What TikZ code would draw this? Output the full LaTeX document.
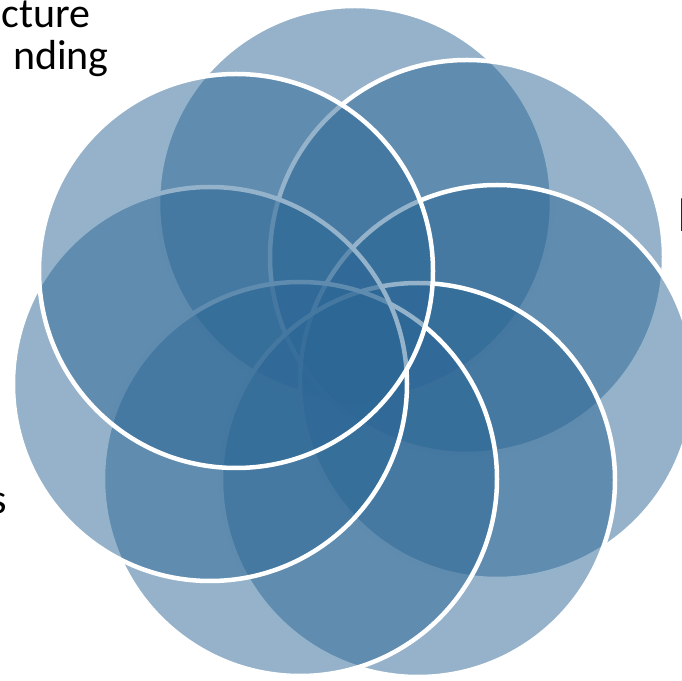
\documentclass[tikz,border=0pt]{standalone}
\usepackage{fontspec}
\setmainfont{Carlito}
\definecolor{petalblue}{HTML}{2B6695}

\def\petalradius{197}

\begin{document}
\begin{tikzpicture}[x=1pt,y=1pt,
  petal/.style={fill=petalblue, fill opacity=0.5, draw=white, line width=4.5pt},
  word/.style={inner sep=0pt, text=black, font=\fontsize{42}{46}\selectfont}]
 \useasboundingbox (0,0) rectangle (682,680);
 % Petals, clockwise from the top one
 \foreach \cx/\cy in {355/477, 467/423, 497/298, 418/200, 300/201, 210/296, 236/409}
  \draw[petal] (\cx,\cy) circle (\petalradius);
 % Cut-off labels
 \node[word, anchor=base east] (topword) at (91,652) {cture};
 \node[word, anchor=base east] (secondword) at (109,610) {nding};
 \node[word, anchor=base east] (leftword) at (7,167) {s};
 \node[word, anchor=base west, font=\fontsize{51}{56}\selectfont] (rightword) at (677,448) {I};
\end{tikzpicture}
\end{document}
